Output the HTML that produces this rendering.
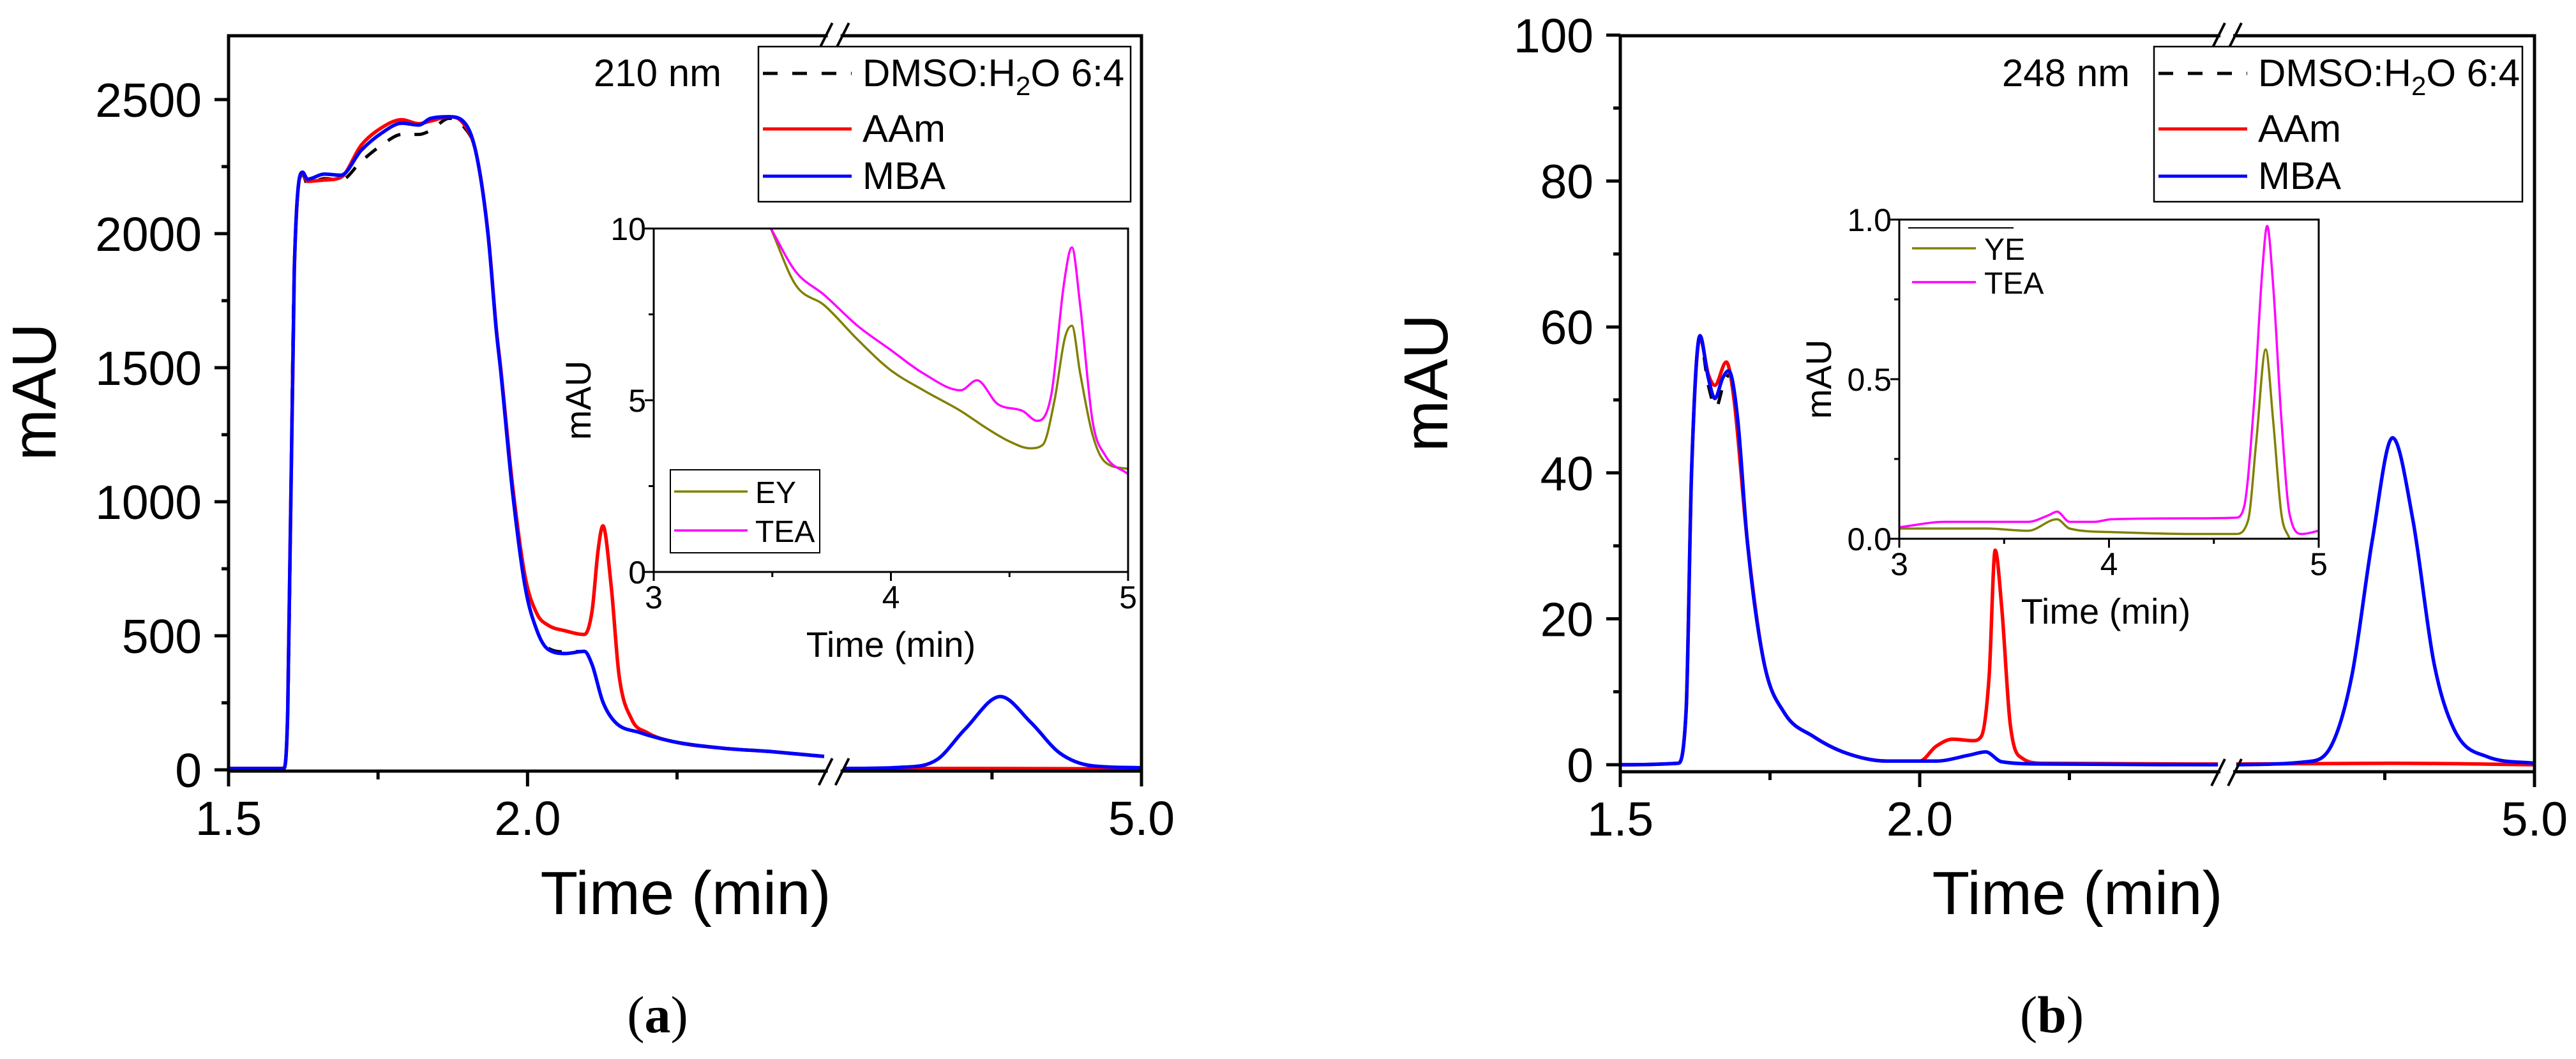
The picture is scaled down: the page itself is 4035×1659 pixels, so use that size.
<!DOCTYPE html>
<html><head><meta charset="utf-8">
<style>
html,body{margin:0;padding:0;background:#fff;}
svg{display:block;}
text{font-family:"Liberation Sans",Arial,sans-serif;fill:#000;}
</style></head>
<body>
<svg id="fig" xmlns="http://www.w3.org/2000/svg" width="4035" height="1659" viewBox="0 0 4035 1659"></svg>
<script>
// ---------- Panel (a) data: 210 nm ----------
const aMbaT = [1.5,1.592,1.599,1.61,1.624,1.632,1.66,1.688,1.722,1.756,1.79,1.818,1.838,1.869,1.893,1.914,1.934,1.948,1.955,1.975,1.996,2.016,2.034,2.064,2.095,2.108,2.126,2.147,2.188,2.242,2.325,2.407,2.496,4.502,4.603,4.658,4.705,4.764,4.815,4.863,4.918,5.0];
const aMbaV = [5,5,222,1870,2229,2203,2222,2218,2311,2375,2412,2405,2430,2436,2418,2300,1995,1633,1490,1035,682,518,450,434,442,392,253,177,139,106,81,68,50,5,10,38,152,273,177,63,15,8];
const aAamT = [1.5,1.592,1.599,1.61,1.624,1.632,1.66,1.688,1.722,1.756,1.79,1.818,1.838,1.869,1.893,1.914,1.934,1.948,1.955,1.975,1.996,2.016,2.034,2.064,2.095,2.108,2.118,2.126,2.14,2.153,2.174,2.2,2.242,2.325,2.407,2.496,4.502,4.7,4.9,5.0];
const aAamV = [5,5,222,1870,2225,2195,2200,2210,2330,2395,2425,2410,2420,2436,2410,2300,2000,1640,1500,1060,720,581,540,518,505,594,820,910,682,354,189,139,106,81,68,50,5,5,4,3];
const aDmsoT = [1.5,1.592,1.599,1.61,1.624,1.632,1.66,1.688,1.722,1.756,1.79,1.818,1.838,1.869,1.893,1.914,1.934,1.948,1.955,1.975,1.996,2.016,2.034,2.064,2.095,2.108,2.126,2.147,2.188,2.242,2.325,2.407,2.496];
const aDmsoV = [5,5,222,1870,2220,2185,2205,2200,2270,2330,2370,2370,2385,2430,2400,2300,1995,1633,1490,1035,682,518,455,440,442,392,253,177,139,106,81,68,50];
// inset (a)
const aInsT = [3.494,3.598,3.72,3.859,3.998,4.137,4.294,4.363,4.45,4.555,4.617,4.677,4.729,4.763,4.798,4.85,4.903,5.0];
const aTeaV = [10,8.75,8.06,7.17,6.47,5.78,5.29,5.58,4.89,4.69,4.4,5.19,8.36,9.45,7.76,4.4,3.4,2.85];
const aEyT = [3.494,3.598,3.72,3.859,3.998,4.137,4.294,4.4,4.5,4.587,4.64,4.69,4.733,4.763,4.798,4.85,4.903,5.0];
const aEyV = [10,8.36,7.76,6.77,5.88,5.29,4.69,4.2,3.8,3.6,3.7,5.0,6.8,7.17,5.78,4.0,3.2,3.0];
const aYTicks = [0,500,1000,1500,2000,2500];
const aInsYTicks = [0,5,10];
const insXTicks = [3,4,5];

// ---------- Panel (b) data: 248 nm ----------
const bMbaT = [1.5,1.596,1.61,1.619,1.633,1.647,1.658,1.671,1.681,1.696,1.712,1.74,1.774,1.822,1.877,1.945,2.027,2.082,2.11,2.137,2.205,2.498,4.502,4.619,4.66,4.695,4.729,4.763,4.797,4.832,4.866,4.921,5.0];
const bMbaV = [0,0.2,7.6,40,58.8,53,50.2,53,54,47.4,30.7,14,7.1,3.9,1.6,0.5,0.5,1.3,1.76,0.4,0.1,0,0,0.4,2.5,12.2,30.7,44.8,33.5,14,4.8,1.1,0.2];
const bAamT = [1.5,1.596,1.61,1.619,1.633,1.647,1.658,1.677,1.69,1.712,1.74,1.774,1.822,1.877,1.945,2.0,2.027,2.055,2.089,2.103,2.116,2.126,2.137,2.151,2.171,2.205,2.498,4.502,4.76,5.0];
const bAamV = [0,0.2,7.6,40,58.5,53.5,52,55.2,50,30.7,14,7.1,3.9,1.6,0.5,0.5,2.5,3.5,3.3,3.9,12.2,29.4,21.5,5.7,0.9,0.2,0.1,0.1,0.2,0];
const bDmsoT = [1.5,1.596,1.61,1.619,1.633,1.647,1.66,1.672,1.683,1.696,1.712,1.74,1.774,1.822,1.877,1.945,2.0];
const bDmsoV = [0,0.2,7.6,40,58.5,52,49,52,53.5,47.4,30.7,14,7.1,3.9,1.6,0.5,0.5];
// inset (b)
const bTeaT = [3.0,3.218,3.614,3.713,3.752,3.812,3.93,4.01,4.406,4.604,4.644,4.691,4.731,4.754,4.782,4.822,4.861,4.92,5.0];
const bTeaV = [0.036,0.053,0.053,0.074,0.085,0.053,0.053,0.061,0.064,0.066,0.1,0.42,0.84,0.98,0.8,0.375,0.078,0.015,0.025];
const bYeT = [3.0,3.416,3.614,3.752,3.812,4.01,4.406,4.604,4.663,4.703,4.747,4.782,4.822,4.861];
const bYeV = [0.032,0.032,0.025,0.061,0.032,0.021,0.015,0.015,0.057,0.31,0.593,0.375,0.078,0];
const bYTicks = [0,20,40,60,80,100];
const bInsYTicks = ['0.0','0.5','1.0'];

// ---------- drawing ----------
const NS='http://www.w3.org/2000/svg';
const svg=document.getElementById('fig');
function mk(tag,attrs,parent){const e=document.createElementNS(NS,tag);for(const k in attrs)e.setAttribute(k,attrs[k]);(parent||svg).appendChild(e);return e;}
function txt(s,attrs,parent){const e=mk('text',attrs,parent);e.textContent=s;return e;}

// monotone cubic path through pixel points
function smoothPath(P){
  const n=P.length; if(n<2) return '';
  const d=[],m=[];
  for(let i=0;i<n-1;i++){const dx=P[i+1][0]-P[i][0];d.push(dx===0?0:(P[i+1][1]-P[i][1])/dx);}
  m[0]=d[0];m[n-1]=d[n-2];
  for(let i=1;i<n-1;i++){ if(d[i-1]*d[i]<=0) m[i]=0; else m[i]=(d[i-1]+d[i])/2; }
  for(let i=0;i<n-1;i++){ if(d[i]===0){m[i]=0;m[i+1]=0;continue;}
    const a=m[i]/d[i],b=m[i+1]/d[i],s=a*a+b*b; if(s>9){const t=3/Math.sqrt(s);m[i]=t*a*d[i];m[i+1]=t*b*d[i];}}
  let s='M'+P[0][0].toFixed(1)+' '+P[0][1].toFixed(1);
  for(let i=0;i<n-1;i++){const h=(P[i+1][0]-P[i][0])/3;
    s+=` C${(P[i][0]+h).toFixed(1)} ${(P[i][1]+m[i]*h).toFixed(1)} ${(P[i+1][0]-h).toFixed(1)} ${(P[i+1][1]-m[i+1]*h).toFixed(1)} ${P[i+1][0].toFixed(1)} ${P[i+1][1].toFixed(1)}`;}
  return s;
}

function panel(o){
  const g=mk('g',{});
  
  
  const kk=(o.R-o.L-25)/1.5;
  const X=t=> t<=2.5 ? o.L+(t-1.5)*kk : o.R-(5-t)*kk;
  const Y=v=> o.y0 - v*o.py;
  function curve(ts,vs,color,name,dash){
    let segs=[[],[]];
    ts.forEach((t,i)=>{segs[t<=2.5?0:1].push([X(t),Y(vs[i])]);});
    segs.forEach((s,j)=>{ if(s.length<2)return;
      const p=mk('path',{d:smoothPath(s),fill:'none',stroke:color,'stroke-width':dash?5:5.5,'stroke-linejoin':'round','stroke-dasharray':dash?'22 22':'none'},g);
      
      
    });
  }
  curve(o.dmsoT,o.dmsoV,'#000','dmso-water-curve',true);
  curve(o.aamT,o.aamV,'#ff0000','aam-curve',false);
  curve(o.mbaT,o.mbaV,'#0000ff','mba-curve',false);
  const ax=mk('g',{stroke:'#000','stroke-width':5,fill:'none'},g);
  
  
  mk('path',{d:`M${o.L} ${o.bot} V${o.top} H${o.R} V${o.bot} Z`},ax);
  const bx=o.L+kk*1.0+12;
  [o.top,o.bot].forEach(yy=>{
    mk('rect',{x:bx-10,y:yy-4,width:20,height:8,fill:'#fff',stroke:'none'},ax);
    const b1=mk('line',{x1:bx-24,y1:yy+22,x2:bx-3,y2:yy-20,'stroke-width':4},ax);
    
    
    mk('line',{x1:bx+2,y1:yy+22,x2:bx+23,y2:yy-20,'stroke-width':4},ax);
  });
  [[1.5,1],[1.75,0],[2.0,1],[2.25,0],[4.75,0],[5.0,1]].forEach(([t,maj])=>{
    mk('line',{x1:X(t),y1:o.bot,x2:X(t),y2:o.bot+(maj?24:13)},ax);
    if(maj){const e=txt(t.toFixed(1),{x:X(t),y:o.bot+100,'font-size':75,'text-anchor':'middle'},g);
      }
  });
  o.yTicks.forEach((v,i)=>{
    mk('line',{x1:o.L-22,y1:Y(v),x2:o.L,y2:Y(v)},ax);
    const e=txt(String(v),{x:o.L-42,y:Y(v)+27,'font-size':75,'text-anchor':'end'},g);
    
    const m=(v+(o.yTicks[1]-o.yTicks[0])/2); if(Y(m)>o.top) mk('line',{x1:o.L-11,y1:Y(m),x2:o.L,y2:Y(m)},ax);
  });
  const xt=txt('Time (min)',{x:o.xtx,y:1432,'font-size':96,'text-anchor':'middle'},g);
  
  const yt=txt('mAU',{x:0,y:0,'font-size':97,'text-anchor':'middle',transform:`translate(${o.ytx},${o.yty}) rotate(-90)`},g);
  
  const pl=txt('',{x:o.plx,y:1617,'font-size':82,'text-anchor':'middle'},g);
  pl.style.fontFamily='"Liberation Serif",serif';
  pl.innerHTML='(<tspan font-weight="bold">'+o.letter+'</tspan>)';
  
  const wl=txt(o.wl,{x:o.wlx,y:135,'font-size':60,'text-anchor':'middle'},g);
  
  const lg=mk('g',{},g);
  
  mk('rect',{x:o.lgx,y:73,width:o.lgw,height:243,fill:'#fff',stroke:'#000','stroke-width':2.5},lg);
  mk('line',{x1:o.lgx+7,y1:115,x2:o.lgx+146,y2:115,stroke:'#000','stroke-width':5,'stroke-dasharray':'23 23'},lg);
  mk('line',{x1:o.lgx+7,y1:202,x2:o.lgx+146,y2:202,stroke:'#ff0000','stroke-width':5},lg);
  mk('line',{x1:o.lgx+7,y1:276,x2:o.lgx+146,y2:276,stroke:'#0000ff','stroke-width':5},lg);
  const t1=txt('',{x:o.lgx+163,y:135,'font-size':60},lg);
  t1.innerHTML='DMSO:H<tspan font-size="42" dy="14">2</tspan><tspan dy="-14">O 6:4</tspan>';
  
  const t2=txt('AAm',{x:o.lgx+163,y:222,'font-size':60},lg);
  
  const t3=txt('MBA',{x:o.lgx+163,y:296,'font-size':60},lg);
  
  return g;
}

function inset(o){
  const g=mk('g',{});
  
  
  const X=t=>o.L+(t-3)/2*(o.R-o.L);
  const Y=v=>o.B-v/o.ymax*(o.B-o.T);
  mk('rect',{x:o.L,y:o.T,width:o.R-o.L,height:o.B-o.T,fill:'#fff',stroke:'none'},g);
  function curve(ts,vs,color,name){
    const p=mk('path',{d:smoothPath(ts.map((t,i)=>[X(t),Y(vs[i])])),fill:'none',stroke:color,'stroke-width':3.5,'stroke-linejoin':'round'},g);
    
  }
  curve(o.c2t,o.c2v,'#808000',o.c2n+'-curve');
  curve(o.c1t,o.c1v,'#ff00ff','tea-curve');
  const ax=mk('g',{stroke:'#000','stroke-width':3,fill:'none'},g);
  mk('rect',{x:o.L,y:o.T,width:o.R-o.L,height:o.B-o.T},ax);
  insXTicks.forEach(t=>{
    mk('line',{x1:X(t),y1:o.B,x2:X(t),y2:o.B+14},ax);
    if(t<5) mk('line',{x1:X(t+0.5),y1:o.B,x2:X(t+0.5),y2:o.B+8},ax);
    const e=txt(String(t),{x:X(t),y:o.B+57,'font-size':50,'text-anchor':'middle'},g);
    
  });
  o.yt.forEach((s,i)=>{
    const v=parseFloat(s);
    mk('line',{x1:o.L-14,y1:Y(v),x2:o.L,y2:Y(v)},ax);
    if(i<o.yt.length-1) mk('line',{x1:o.L-8,y1:Y(v+o.ymax/4),x2:o.L,y2:Y(v+o.ymax/4)},ax);
    const e=txt(s,{x:o.L-12,y:Y(v)+18,'font-size':50,'text-anchor':'end'},g);
    
  });
  const xt=txt('Time (min)',{x:(o.L+o.R)/2+o.xto,y:o.B+133,'font-size':56,'text-anchor':'middle'},g);
  
  const yt=txt('mAU',{x:0,y:0,'font-size':56,'text-anchor':'middle',transform:`translate(${o.ytx},${(o.T+o.B)/2}) rotate(-90)`},g);
  
  const lg=mk('g',{},g);
  
  if(o.lgBox) mk('rect',{x:o.lgx,y:o.lgy,width:234,height:130,fill:'none',stroke:'#000','stroke-width':2},lg);
  else mk('line',{x1:o.lgx,y1:o.lgy,x2:o.lgx+165,y2:o.lgy,stroke:'#000','stroke-width':2},lg);
  mk('line',{x1:o.lgx+6,y1:o.r1,x2:o.lgx+6+o.ll,y2:o.r1,stroke:'#808000','stroke-width':3.5},lg);
  mk('line',{x1:o.lgx+6,y1:o.r2,x2:o.lgx+6+o.ll,y2:o.r2,stroke:'#ff00ff','stroke-width':3.5},lg);
  const a=txt(o.c2n.toUpperCase(),{x:o.lgx+o.tx,y:o.r1+18,'font-size':48},lg);
  
  const b=txt('TEA',{x:o.lgx+o.tx,y:o.r2+18,'font-size':48},lg);
  
}

panel({name:'panel-a-210nm',L:358,R:1788,top:56,bot:1208,y0:1206,py:0.42,yTicks:aYTicks,
  mbaT:aMbaT,mbaV:aMbaV,aamT:aAamT,aamV:aAamV,dmsoT:aDmsoT,dmsoV:aDmsoV,
  xtx:1074,ytx:87,yty:614,plx:1030,letter:'a',wl:'210 nm',wlx:1030,lgx:1188,lgw:583});
panel({name:'panel-b-248nm',L:2538,R:3970,top:56,bot:1209,y0:1198,py:11.43,yTicks:bYTicks,
  mbaT:bMbaT,mbaV:bMbaV,aamT:bAamT,aamV:bAamV,dmsoT:bDmsoT,dmsoV:bDmsoV,
  xtx:3254,ytx:2267,yty:600,plx:3214,letter:'b',wl:'248 nm',wlx:3236,lgx:3374,lgw:577});
inset({name:'inset-a',L:1024,R:1767,T:358,B:896,ymax:10,yt:aInsYTicks.map(String),
  c1t:aInsT,c1v:aTeaV,c2t:aEyT,c2v:aEyV,c2n:'ey',ytx:925,xto:0,
  lgBox:true,lgx:1050,lgy:736,r1:770,r2:831,ll:115,tx:133});
inset({name:'inset-b',L:2975,R:3632,T:344,B:844,ymax:1.0,yt:bInsYTicks,
  c1t:bTeaT,c1v:bTeaV,c2t:bYeT,c2v:bYeV,c2n:'ye',ytx:2868,xto:-5,
  lgBox:false,lgx:2989,lgy:357,r1:389,r2:442,ll:100,tx:119});
</script>
</body></html>
